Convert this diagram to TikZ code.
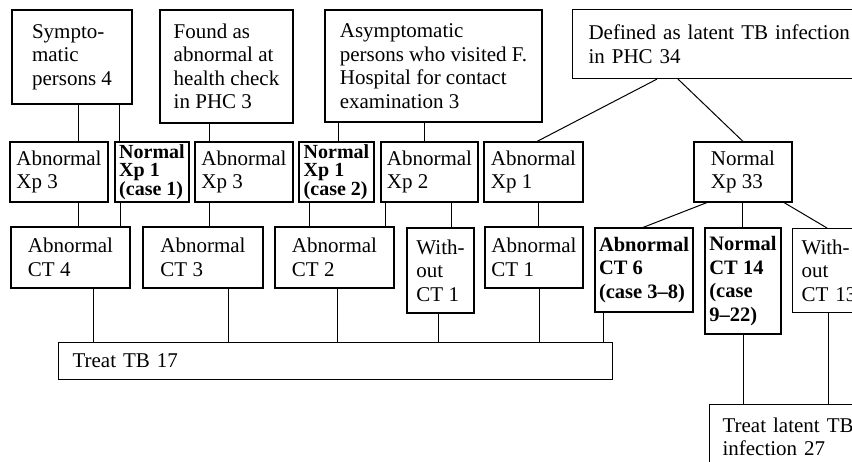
\documentclass[tikz,border=0pt]{standalone}
\usepackage{fontspec}
\setmainfont{Liberation Serif}
\begin{document}
\begin{tikzpicture}[x=1pt,y=-1pt,
  every node/.style={font=\fontsize{21}{23.5}\selectfont},
  bx/.style={draw, line width=1.1pt, align=left, inner sep=0pt},
  bbx/.style={bx, font=\fontsize{20}{18}\selectfont\bfseries},
  bbl/.style={bx, font=\fontsize{20.5}{23.5}\selectfont\bfseries},
  ln/.style={line width=1pt}]
\fill[white] (0,0) rectangle (852,462);
\useasboundingbox (0,0) rectangle (852,462);
% top row
\node[bx, minimum width=120pt, minimum height=94pt] (sym) at (72,57) {Sympto-\\matic\\persons 4};
\node[bx, minimum width=133pt, minimum height=113pt] (found) at (226.5,66.5) {Found as\\abnormal at\\health check\\in PHC 3};
\node[bx, minimum width=217pt, minimum height=112pt] (asym) at (433.5,66) {Asymptomatic\\persons who visited F.\\Hospital for contact\\examination 3};
\node[bx, anchor=north west, inner xsep=16pt, text width=290pt, minimum height=69pt] (def) at (572,9) {Defined as latent TB infection\\in PHC 34};
% Xp row
\node[bx, minimum width=98pt, minimum height=60pt] (xpA1) at (59,172) {Abnormal\\Xp 3};
\node[bbx, minimum width=74pt, minimum height=60pt] (xpN1) at (152,172) {Normal\\Xp 1\\(case 1)};
\node[bx, minimum width=98pt, minimum height=60pt] (xpA2) at (244,172) {Abnormal\\Xp 3};
\node[bbx, minimum width=75pt, minimum height=60pt] (xpN2) at (336.5,172) {Normal\\Xp 1\\(case 2)};
\node[bx, minimum width=97pt, minimum height=60pt] (xpA3) at (429.5,172) {Abnormal\\Xp 2};
\node[bx, minimum width=99pt, minimum height=60pt] (xpA4) at (533.5,172) {Abnormal\\Xp 1};
\node[bx, minimum width=98pt, minimum height=60pt] (xpN3) at (743,172) {Normal\\Xp 33};
% CT row
\node[bx, minimum width=119pt, minimum height=61pt] (ct4) at (70.5,257.5) {Abnormal\\CT 4};
\node[bx, minimum width=120pt, minimum height=61pt] (ct3) at (203,257.5) {Abnormal\\CT 3};
\node[bx, minimum width=119pt, minimum height=61pt] (ct2) at (334.5,257.5) {Abnormal\\CT 2};
\node[bx, minimum width=67pt, minimum height=85pt] (wct1) at (440.5,270.5) {With-\\out\\CT 1};
\node[bx, minimum width=98pt, minimum height=61pt] (ct1) at (534,257.5) {Abnormal\\CT 1};
\node[bbl, minimum width=98pt, minimum height=84pt] (ct6) at (644,270) {Abnormal\\CT 6\\(case 3–8)};
\node[bbl, minimum width=76pt, minimum height=106pt] (ct14) at (743,281) {Normal\\CT 14\\(case\\9–22)};
\node[bx, anchor=north west, inner xsep=9pt, text width=60pt, minimum height=84pt] (wct13) at (792,228) {With-\\out\\CT 13};
% bottom
\node[bx, anchor=north west, inner xsep=14pt, text width=526pt, minimum height=37pt] (tb) at (58,342) {Treat TB 17};
\node[bx, anchor=north west, inner xsep=13pt, inner ysep=13pt, text width=150pt] (ltb) at (709,404) {Treat latent TB\\infection 27};
% connectors top -> Xp
\draw[ln] (78,0 |- sym.south) -- (78,0 |- xpA1.north);
\draw[ln] (119,0 |- sym.south) -- (119,0 |- xpN1.north);
\draw[ln] (209,0 |- found.south) -- (209,0 |- xpA2.north);
\draw[ln] (338,0 |- asym.south) -- (338,0 |- xpN2.north);
\draw[ln] (424,0 |- asym.south) -- (424,0 |- xpA3.north);
\draw[ln] (657,0 |- def.south) -- (537,0 |- xpA4.north);
\draw[ln] (678,0 |- def.south) -- (743,0 |- xpN3.north);
% Xp -> CT
\draw[ln] (78,0 |- xpA1.south) -- (78,0 |- ct4.north);
\draw[ln] (120,0 |- xpN1.south) -- (120,0 |- ct4.north);
\draw[ln] (209,0 |- xpA2.south) -- (209,0 |- ct3.north);
\draw[ln] (309,0 |- xpN2.south) -- (309,0 |- ct2.north);
\draw[ln] (385,0 |- xpA3.south) -- (385,0 |- ct2.north);
\draw[ln] (451,0 |- xpA3.south) -- (451,0 |- wct1.north);
\draw[ln] (538,0 |- xpA4.south) -- (538,0 |- ct1.north);
\draw[ln] (707,0 |- xpN3.south) -- (643,0 |- ct6.north);
\draw[ln] (742,0 |- xpN3.south) -- (742,0 |- ct14.north);
\draw[ln] (784,0 |- xpN3.south) -- (827,0 |- wct13.north);
% CT -> treat
\draw[ln] (93,0 |- ct4.south) -- (93,0 |- tb.north);
\draw[ln] (228,0 |- ct3.south) -- (228,0 |- tb.north);
\draw[ln] (337,0 |- ct2.south) -- (337,0 |- tb.north);
\draw[ln] (438,0 |- wct1.south) -- (438,0 |- tb.north);
\draw[ln] (539,0 |- ct1.south) -- (539,0 |- tb.north);
\draw[ln] (603,0 |- ct6.south) -- (603,0 |- tb.north);
\draw[ln] (743,0 |- ct14.south) -- (743,0 |- ltb.north);
\draw[ln] (828,0 |- wct13.south) -- (828,0 |- ltb.north);
\end{tikzpicture}
\end{document}
